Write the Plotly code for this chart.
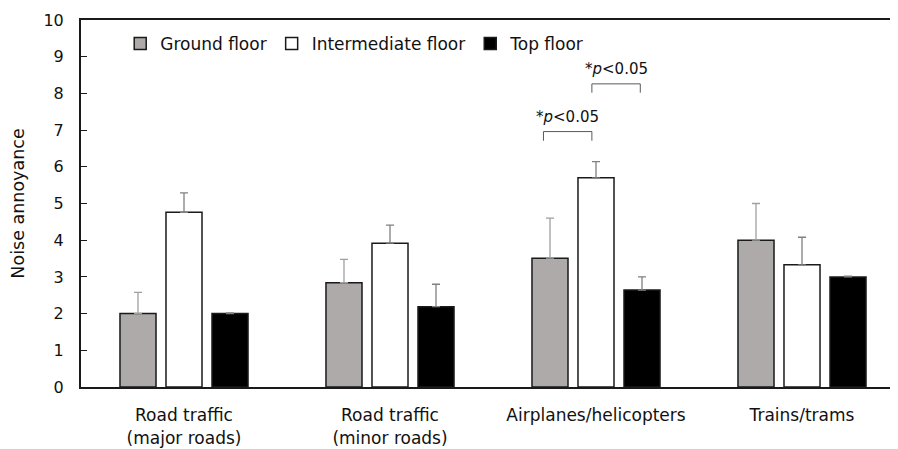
import plotly.graph_objects as go

categories = ["Road traffic<br>(major roads)", "Road traffic<br>(minor roads)",
              "Airplanes/helicopters", "Trains/trams"]
series_names = ["Ground floor", "Intermediate floor", "Top floor"]
ground = [2.00, 2.84, 3.51, 4.00]
ground_err = [0.58, 0.64, 1.09, 1.00]
intermediate = [4.76, 3.92, 5.70, 3.33]
intermediate_err = [0.53, 0.49, 0.44, 0.75]
top = [2.00, 2.19, 2.64, 3.00]
top_err = [0.02, 0.61, 0.36, 0.02]
y_ticks = list(range(0, 11))

sig_label = "*<i>p</i>&lt;0.05"
# significance brackets: (category index, x offset start, x offset end, y top, leg bottom, label y)
brackets = [
    (2, -0.255, -0.02, 6.96, 6.71, 7.36),
    (2, -0.02, 0.215, 8.26, 8.02, 8.66),
]

FONT = "DejaVu Sans"
TXT = "#111111"
fig = go.Figure()
fills = ["#AEAAAA", "#FFFFFF", "#000000"]
err_colors = ["#A0A0A0", "#808080", "#808080"]
for name, vals, errs, fc, ec in zip(series_names, [ground, intermediate, top],
                                     [ground_err, intermediate_err, top_err], fills, err_colors):
    fig.add_trace(go.Bar(
        name=name, x=categories, y=vals,
        marker=dict(color=fc, line=dict(color="#1a1a1a", width=1.5)),
        error_y=dict(type="data", array=errs, arrayminus=[0] * len(errs), symmetric=False,
                     color=ec, thickness=1.3, width=4),
    ))

for ci, x0, x1, yt, yb, ly in brackets:
    xc = ci
    fig.add_shape(type="path",
                  path=f"M {xc + x0} {yb} L {xc + x0} {yt} L {xc + x1} {yt} L {xc + x1} {yb}",
                  xref="x", yref="y", line=dict(color="#595959", width=1))
    fig.add_annotation(x=xc + (x0 + x1) / 2, y=ly, xref="x", yref="y", text=sig_label,
                       showarrow=False, font=dict(family=FONT, size=15, color=TXT))

# page body has an 8px margin, so the figure is sized to fit the 898x449 window
fig.update_layout(
    width=890, height=441,
    margin=dict(l=73, r=0, t=12, b=62),
    paper_bgcolor="white", plot_bgcolor="white",
    barmode="group", bargap=0.33, bargroupgap=0.217,
    font=dict(family=FONT, size=17, color=TXT),
    legend=dict(orientation="h", x=0.048, y=0.984, xanchor="left", yanchor="top",
                font=dict(size=17), bgcolor="rgba(0,0,0,0)", itemwidth=30),
    showlegend=True,
)
fig.update_xaxes(range=[-0.5, 3.466], showline=True, linecolor="#1a1a1a", linewidth=2,
                 mirror=True, ticks="", showgrid=False, tickfont=dict(size=17),
                 ticklabelstandoff=12, automargin=False)
fig.update_yaxes(range=[0, 10], tickvals=y_ticks, showline=True, linecolor="#1a1a1a",
                 linewidth=2, ticks="inside", ticklen=6, tickcolor="#1a1a1a", showgrid=False,
                 zeroline=False, tickfont=dict(size=16), ticklabelstandoff=12, automargin=False,
                 title=dict(text="Noise annoyance", font=dict(size=17.5), standoff=14))

fig.write_html("out.html")
